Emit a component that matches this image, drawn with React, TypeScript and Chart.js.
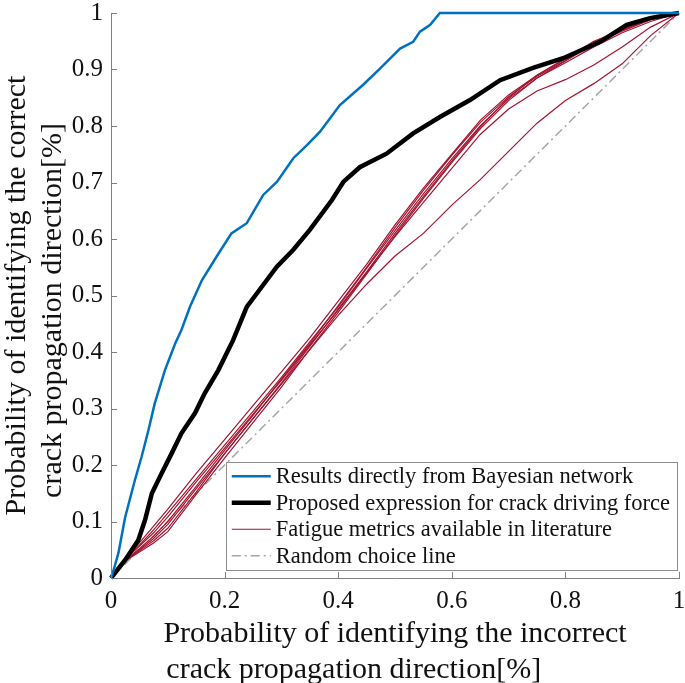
import React, { useEffect, useRef } from "react";
import { Chart, registerables } from "chart.js";

Chart.register(...registerables);

// ---------- data ----------
const X_TICKS = [0, 0.2, 0.4, 0.6, 0.8, 1];
const X_TICK_LABELS = ["0", "0.2", "0.4", "0.6", "0.8", "1"];
const Y_TICKS = [0, 0.1, 0.2, 0.3, 0.4, 0.5, 0.6, 0.7, 0.8, 0.9, 1];
const Y_TICK_LABELS = ["0", "0.1", "0.2", "0.3", "0.4", "0.5", "0.6", "0.7", "0.8", "0.9", "1"];

// second lines carry trailing blanks, as in the original labels
const X_TITLE = ["Probability of identifying the incorrect", "crack propagation direction[%]           "];
const Y_TITLE = ["Probability of identifying the correct", "crack propagation direction[%]    "];

const LABEL_BAYES = "Results directly from Bayesian network";
const LABEL_PROPOSED = "Proposed expression for crack driving force";
const LABEL_FATIGUE = "Fatigue metrics available in literature";
const LABEL_RANDOM = "Random choice line";

const BLUE_X = [0, 0.004, 0.013, 0.025, 0.042, 0.054, 0.066, 0.077, 0.095, 0.113, 0.124, 0.139, 0.160, 0.186, 0.212, 0.239, 0.268, 0.292, 0.321, 0.345, 0.368, 0.403, 0.444, 0.474, 0.509, 0.532, 0.544, 0.562, 0.579, 1];
const BLUE_Y = [0, 0.012, 0.044, 0.108, 0.173, 0.215, 0.262, 0.309, 0.368, 0.415, 0.439, 0.480, 0.527, 0.569, 0.610, 0.628, 0.678, 0.701, 0.743, 0.766, 0.790, 0.837, 0.873, 0.902, 0.937, 0.949, 0.967, 0.979, 1.0, 1.0];

const BLACK_X = [0, 0.025, 0.048, 0.060, 0.072, 0.089, 0.107, 0.124, 0.148, 0.165, 0.189, 0.215, 0.239, 0.257, 0.292, 0.321, 0.350, 0.389, 0.409, 0.438, 0.485, 0.532, 0.579, 0.632, 0.685, 0.743, 0.796, 0.861, 0.908, 0.949, 1];
const BLACK_Y = [0, 0.032, 0.067, 0.103, 0.150, 0.185, 0.221, 0.256, 0.292, 0.327, 0.368, 0.421, 0.480, 0.504, 0.551, 0.581, 0.616, 0.669, 0.701, 0.727, 0.751, 0.787, 0.816, 0.846, 0.881, 0.903, 0.920, 0.949, 0.979, 0.991, 1];

const RED_X = [0, 0.025, 0.05, 0.075, 0.1, 0.15, 0.2, 0.25, 0.3, 0.35, 0.4, 0.45, 0.5, 0.55, 0.6, 0.65, 0.7, 0.75, 0.8, 0.85, 0.9, 0.95, 1];
const RED_Y1 = [0, 0.036, 0.062, 0.092, 0.122, 0.185, 0.245, 0.305, 0.365, 0.425, 0.490, 0.555, 0.625, 0.690, 0.750, 0.810, 0.855, 0.890, 0.920, 0.950, 0.970, 0.990, 1];
const RED_Y2 = [0, 0.033, 0.058, 0.085, 0.115, 0.175, 0.235, 0.295, 0.355, 0.418, 0.480, 0.548, 0.615, 0.680, 0.742, 0.800, 0.848, 0.885, 0.915, 0.945, 0.968, 0.988, 1];
const RED_Y3 = [0, 0.030, 0.046, 0.062, 0.082, 0.148, 0.212, 0.275, 0.338, 0.405, 0.470, 0.538, 0.606, 0.672, 0.735, 0.795, 0.845, 0.885, 0.912, 0.940, 0.965, 0.985, 1];
const RED_Y4 = [0, 0.031, 0.048, 0.066, 0.088, 0.152, 0.220, 0.282, 0.345, 0.410, 0.476, 0.542, 0.610, 0.675, 0.738, 0.798, 0.850, 0.890, 0.918, 0.948, 0.972, 0.990, 1];
const RED_Y5 = [0, 0.034, 0.056, 0.080, 0.108, 0.170, 0.230, 0.290, 0.350, 0.412, 0.474, 0.540, 0.604, 0.665, 0.725, 0.785, 0.830, 0.862, 0.882, 0.908, 0.940, 0.975, 1];
const RED_Y6 = [0, 0.032, 0.052, 0.074, 0.100, 0.162, 0.226, 0.288, 0.352, 0.415, 0.482, 0.550, 0.620, 0.686, 0.748, 0.806, 0.852, 0.888, 0.916, 0.946, 0.970, 0.988, 1];
const RED_Y7 = [0, 0.030, 0.050, 0.070, 0.095, 0.158, 0.220, 0.282, 0.343, 0.404, 0.465, 0.520, 0.570, 0.610, 0.660, 0.705, 0.755, 0.805, 0.845, 0.875, 0.910, 0.960, 1];
const RED_SERIES = [RED_Y1, RED_Y2, RED_Y3, RED_Y4, RED_Y5, RED_Y6, RED_Y7];

const RANDOM_X = [0, 1];
const RANDOM_Y = [0, 1];

// ---------- styles ----------
const SERIF = "'Liberation Serif', 'Times New Roman', serif";
const AXIS_COLOR = "#808080";
const TEXT_COLOR = "#111111";
const BLUE = "#0072BD";
const BLACK = "#000000";
const RED = "#A2142F";
const GRAY = "#a6a6a6";
const GRAY_DASH = [9, 4, 2, 4];

const toPoints = (xs: number[], ys: number[]) => xs.map((x, i) => ({ x, y: ys[i] }));

const tickMarksPlugin = {
  id: "tickMarks",
  afterDatasetsDraw(chart: any) {
    const { ctx, chartArea: a, scales } = chart;
    ctx.save();
    ctx.strokeStyle = AXIS_COLOR;
    ctx.lineWidth = 1;
    ctx.beginPath();
    for (const t of scales.x.ticks) {
      const px = Math.round(scales.x.getPixelForValue(t.value)) + 0.5;
      ctx.moveTo(px, a.bottom);
      ctx.lineTo(px, a.bottom - 6);
    }
    for (const t of scales.y.ticks) {
      const py = Math.round(scales.y.getPixelForValue(t.value)) + 0.5;
      ctx.moveTo(a.left, py);
      ctx.lineTo(a.left + 6, py);
    }
    ctx.stroke();
    ctx.restore();
  },
};

const boxLegendPlugin = {
  id: "boxLegend",
  afterDraw(chart: any) {
    const { ctx, chartArea: a } = chart;
    const seen = new Set<string>();
    const items: any[] = [];
    chart.data.datasets.forEach((ds: any) => {
      if (!ds.label || seen.has(ds.label)) return;
      seen.add(ds.label);
      items.push(ds);
    });
    const order = [LABEL_BAYES, LABEL_PROPOSED, LABEL_FATIGUE, LABEL_RANDOM];
    items.sort((p, q) => order.indexOf(p.label) - order.indexOf(q.label));
    ctx.save();
    ctx.font = `22.5px ${SERIF}`;
    let maxW = 0;
    for (const it of items) maxW = Math.max(maxW, ctx.measureText(it.label).width);
    const padL = 6, sample = 39, gap = 5, padR = 7, rowH = 26.5;
    const w = padL + sample + gap + maxW + padR;
    const h = items.length * rowH + 2;
    const right = a.right - 2;
    const bottom = a.bottom - 8;
    const left = right - w;
    const top = bottom - h;
    ctx.fillStyle = "#ffffff";
    ctx.fillRect(left, top, w, h);
    ctx.strokeStyle = "#8c8c8c";
    ctx.lineWidth = 1;
    ctx.strokeRect(Math.round(left) + 0.5, Math.round(top) + 0.5, Math.round(w), Math.round(h));
    items.forEach((it, i) => {
      const cy = top + 1 + rowH * (i + 0.5);
      ctx.save();
      ctx.strokeStyle = it.borderColor;
      ctx.lineWidth = it.borderWidth;
      ctx.setLineDash(it.borderDash || []);
      ctx.beginPath();
      ctx.moveTo(left + padL, cy);
      ctx.lineTo(left + padL + sample, cy);
      ctx.stroke();
      ctx.restore();
      ctx.fillStyle = TEXT_COLOR;
      ctx.textBaseline = "middle";
      ctx.textAlign = "left";
      ctx.fillText(it.label, left + padL + sample + gap, cy + 1);
    });
    ctx.restore();
  },
};

export default function App() {
  const ref = useRef<HTMLCanvasElement | null>(null);
  useEffect(() => {
    if (!ref.current) return;
    const lineDs = (label: string, xs: number[], ys: number[], color: string, width: number, dash: number[] = []) => ({
      label,
      data: toPoints(xs, ys),
      borderColor: color,
      backgroundColor: color,
      borderWidth: width,
      borderDash: dash,
      pointRadius: 0,
      pointHoverRadius: 0,
      tension: 0,
      fill: false,
      clip: 4,
    });
    const datasets: any[] = [
      lineDs(LABEL_BAYES, BLUE_X, BLUE_Y, BLUE, 2.5),
      lineDs(LABEL_PROPOSED, BLACK_X, BLACK_Y, BLACK, 4.5),
      ...RED_SERIES.map((ys) => lineDs(LABEL_FATIGUE, RED_X, ys, RED, 1.2)),
      lineDs(LABEL_RANDOM, RANDOM_X, RANDOM_Y, GRAY, 1.5, GRAY_DASH),
    ];
    const tickFont = { family: SERIF, size: 25, lineHeight: 1 };
    const titleFont = { family: SERIF, size: 30, lineHeight: 1.2 };
    const chart = new Chart(ref.current, {
      type: "line",
      data: { datasets },
      plugins: [tickMarksPlugin, boxLegendPlugin],
      options: {
        animation: false,
        responsive: false,
        devicePixelRatio: 1,
        layout: { padding: { top: 13, right: 6, left: 0, bottom: 0 } },
        plugins: { legend: { display: false }, tooltip: { enabled: false } },
        scales: {
          x: {
            type: "linear",
            min: 0,
            max: 1,
            afterBuildTicks: (s: any) => { s.ticks = X_TICKS.map((v) => ({ value: v })); },
            afterFit: (s: any) => { s.height = 105; s.paddingLeft = 0; s.paddingRight = 0; },
            ticks: { callback: (_v: any, i: number) => X_TICK_LABELS[i], font: tickFont, color: TEXT_COLOR, padding: 11, maxRotation: 0 },
            grid: { display: false, drawTicks: false },
            border: { display: true, color: AXIS_COLOR, width: 1 },
            title: { display: true, text: X_TITLE, font: titleFont, color: TEXT_COLOR, padding: { top: 0, bottom: -5 } },
          },
          y: {
            type: "linear",
            min: 0,
            max: 1,
            afterBuildTicks: (s: any) => { s.ticks = Y_TICKS.map((v) => ({ value: v })); },
            afterFit: (s: any) => { s.width = 111; s.paddingTop = 0; s.paddingBottom = 0; },
            ticks: { callback: (_v: any, i: number) => Y_TICK_LABELS[i], font: tickFont, color: TEXT_COLOR, padding: 8 },
            grid: { display: false, drawTicks: false },
            border: { display: true, color: AXIS_COLOR, width: 1 },
            title: { display: true, text: Y_TITLE, font: titleFont, color: TEXT_COLOR, padding: { top: -1, bottom: 0 } },
          },
        },
      } as any,
    });
    return () => chart.destroy();
  }, []);
  return (
    <div style={{ position: "absolute", left: 0, top: 0, width: 685, height: 683, background: "#fff" }}>
      <canvas ref={ref} width={685} height={683} style={{ display: "block" }} />
    </div>
  );
}
